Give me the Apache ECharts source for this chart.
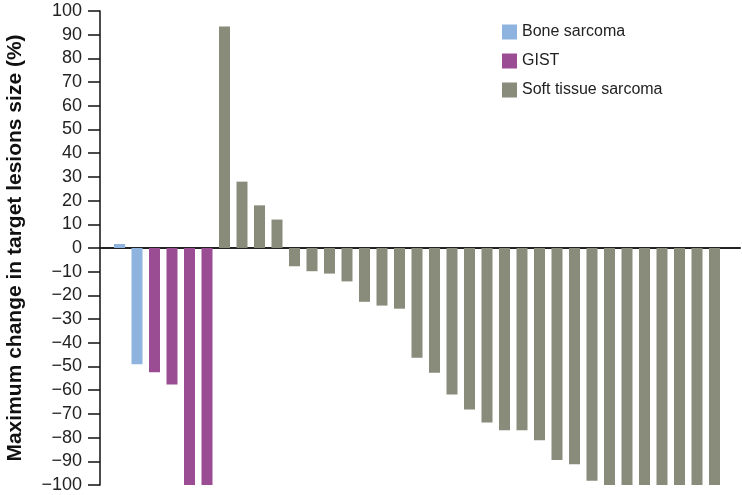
<!DOCTYPE html>
<html>
<head>
<meta charset="utf-8">
<script src="https://cdn.jsdelivr.net/npm/echarts@6/dist/echarts.min.js"></script>
<style>
  html, body { margin: 0; padding: 0; background: #fff; }
  #chart { width: 742px; height: 495px; }
</style>
</head>
<body>
<div id="chart"></div>
<script>
// values, one bar per patient, left to right
var seriesNames = ['Bone sarcoma', 'GIST', 'Soft tissue sarcoma'];
var boneValues = [1.7, -49];
var gistValues = [-52.4, -57.6, -100, -100];
var softValues = [93.5, 28, 18, 12, -7.7, -9.8, -10.8, -14.1, -22.7, -24.3, -25.6,
  -46.3, -52.6, -61.8, -68.1, -73.6, -76.9, -76.9, -81.1, -89.5, -91.2, -98.2,
  -100, -100, -100, -100, -100, -100, -100];
var yTicks = { min: -100, max: 100, interval: 10 };

var colors = ['#8fb3df', '#9a4d92', '#898b7b'];
var font = '"Liberation Sans", Arial, Helvetica, sans-serif';

// one category per patient; each series fills only its own patients
var categories = [];
var total = boneValues.length + gistValues.length + softValues.length;
for (var c = 0; c < total; c++) categories.push(String(c + 1));

var pos = 0;
function place(values) {
  var out = [];
  for (var i = 0; i < total; i++) out.push('-');
  for (var j = 0; j < values.length; j++) {
    out[pos] = values[j];
    pos++;
  }
  return out;
}
var groups = [place(boneValues), place(gistValues), place(softValues)];

var chart = echarts.init(document.getElementById('chart'));

var series = [];
for (var s = 0; s < seriesNames.length; s++) {
  series.push({
    name: seriesNames[s],
    type: 'bar',
    stack: 'all',
    xAxisIndex: 1,
    yAxisIndex: 1,
    barWidth: 11,
    data: groups[s],
    itemStyle: { color: colors[s] }
  });
}

chart.setOption({
  animation: false,
  textStyle: { fontFamily: font },
  grid: [
    // frame grid: visible y axis and the zero line across the full width
    { left: 100, right: 2, top: 11, bottom: 10, outerBoundsMode: 'none', containLabel: false },
    // bar grid: patients only
    { left: 110.75, right: 18.75, top: 11, bottom: 10, outerBoundsMode: 'none', containLabel: false }
  ],
  legend: {
    orient: 'vertical',
    left: 497,
    top: 19,
    icon: 'rect',
    itemWidth: 15,
    itemHeight: 15,
    itemGap: 13,
    textStyle: { fontSize: 16, color: '#222', fontFamily: font },
    data: seriesNames
  },
  xAxis: [{
    gridIndex: 0,
    type: 'value',
    min: 0,
    max: 1,
    axisLine: { show: true, onZero: true, lineStyle: { color: '#222', width: 2 } },
    axisTick: { show: false },
    axisLabel: { show: false },
    splitLine: { show: false }
  }, {
    gridIndex: 1,
    type: 'category',
    data: categories,
    axisLine: { show: false },
    axisTick: { show: false },
    axisLabel: { show: false },
    splitLine: { show: false }
  }],
  yAxis: [{
    gridIndex: 0,
    type: 'value',
    min: yTicks.min,
    max: yTicks.max,
    interval: yTicks.interval,
    name: 'Maximum change in target lesions size (%)',
    nameLocation: 'middle',
    nameGap: 74,
    nameTextStyle: { fontSize: 21, fontWeight: 'bold', color: '#111', fontFamily: font },
    axisLine: { show: true, onZero: false, lineStyle: { color: '#111', width: 1.5 } },
    axisTick: { show: true, inside: false, length: 12, lineStyle: { color: '#111', width: 1.5 } },
    axisLabel: {
      inside: false,
      fontSize: 18,
      color: '#222',
      margin: 18,
      formatter: function (v) { return String(v).replace('-', '\u2212'); }
    },
    splitLine: { show: false }
  }, {
    gridIndex: 1,
    type: 'value',
    min: yTicks.min,
    max: yTicks.max,
    interval: yTicks.interval,
    show: false,
    splitLine: { show: false }
  }],
  series: series
});
</script>
</body>
</html>
